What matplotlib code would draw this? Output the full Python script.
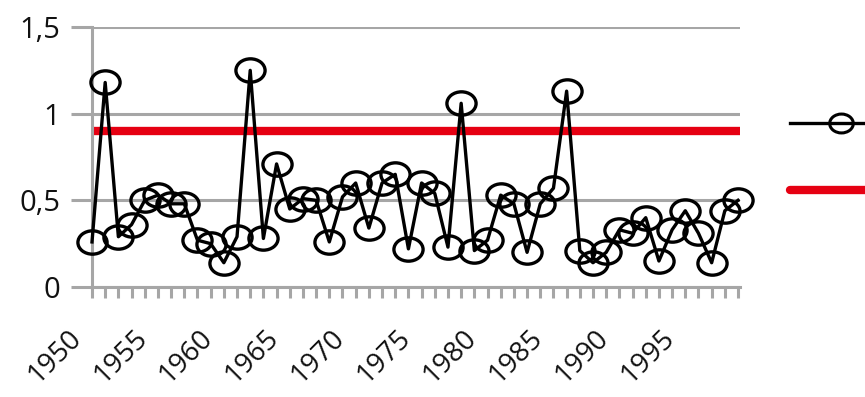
import matplotlib
matplotlib.use("Agg")
import matplotlib.pyplot as plt
import numpy as np
from matplotlib.path import Path
from matplotlib.lines import Line2D
from matplotlib.transforms import ScaledTranslation, Affine2D

years = list(range(1950, 2000))
values = [0.26, 1.18, 0.29, 0.36, 0.50, 0.53, 0.48, 0.48, 0.27, 0.25,
          0.14, 0.29, 1.25, 0.28, 0.71, 0.45, 0.51, 0.50, 0.26, 0.52,
          0.60, 0.34, 0.60, 0.65, 0.22, 0.60, 0.54, 0.23, 1.06, 0.21,
          0.27, 0.53, 0.48, 0.20, 0.48, 0.57, 1.13, 0.21, 0.14, 0.20,
          0.33, 0.31, 0.40, 0.15, 0.33, 0.44, 0.31, 0.14, 0.44, 0.50]
threshold = 0.9
ytick_vals = [0, 0.5, 1, 1.5]
ytick_labels = ["0", "0,5", "1", "1,5"]
xlabel_years = [1950, 1955, 1960, 1965, 1970, 1975, 1980, 1985, 1990, 1995]
series_labels = ["", ""]

plt.rcParams['font.family'] = ['Open Sans', 'DejaVu Sans']

W, H, DPI = 865, 397, 100
fig = plt.figure(figsize=(W / DPI, H / DPI), dpi=DPI)
ax = fig.add_axes([92 / W, (H - 287) / H, (740 - 92) / W, (287 - 27) / H])

# ellipse marker (slightly wider than tall)
ell = Path.unit_circle().transformed(Affine2D().scale(1.25, 1.0))

grid_c = '#a6a6a6'
ax.yaxis.grid(True, color=grid_c, linewidth=2.2, zorder=0)
ax.set_axisbelow(True)

line, = ax.plot(years, values, color='black', linewidth=2.4, marker=ell,
                markersize=21, markerfacecolor='none', markeredgecolor='black',
                markeredgewidth=2.4, clip_on=False, zorder=3)
red = ax.axhline(threshold, color='#e60012', linewidth=6,
                 solid_capstyle='round', zorder=2, xmin=-0.006, xmax=1.0)

ax.set_xlim(1950, 1999.15)
ax.set_ylim(0, 1.5)
ax.set_yticks(ytick_vals)
ax.set_yticklabels(ytick_labels)
ax.set_xticks(years, minor=True)
ax.set_xticks(xlabel_years)
ax.set_xticklabels([str(y) for y in xlabel_years], rotation=45, ha='right',
                   va='center', rotation_mode='anchor')

for s in ['top', 'right']:
    ax.spines[s].set_visible(False)
for s in ['left', 'bottom']:
    ax.spines[s].set_color(grid_c)
    ax.spines[s].set_linewidth(2.2)

ax.tick_params(axis='y', length=15, width=2.2, color=grid_c, labelsize=21,
               pad=8, labelcolor='#111111')
ax.tick_params(axis='x', which='both', length=8, width=2.2, color=grid_c,
               direction='out', labelsize=20, pad=0, labelcolor='#111111')

off = ScaledTranslation(-15 / DPI, -36 / DPI, fig.dpi_scale_trans)
for lab in ax.get_xticklabels():
    lab.set_transform(lab.get_transform() + off)

h1 = Line2D([], [], color='black', linewidth=2.4, marker=ell, markersize=17,
            markerfacecolor='none', markeredgecolor='black', markeredgewidth=2.2)
h2 = Line2D([], [], color='#e60012', linewidth=6, solid_capstyle='round')
fig.legend([h1, h2], series_labels, loc='upper left',
           bbox_to_anchor=(790 / W, (H - 117) / H), frameon=False,
           handlelength=7.3, handleheight=1.0, labelspacing=3.8,
           borderpad=0, borderaxespad=0, handletextpad=0.5, fontsize=10)

fig.savefig('out.png', dpi=DPI)
